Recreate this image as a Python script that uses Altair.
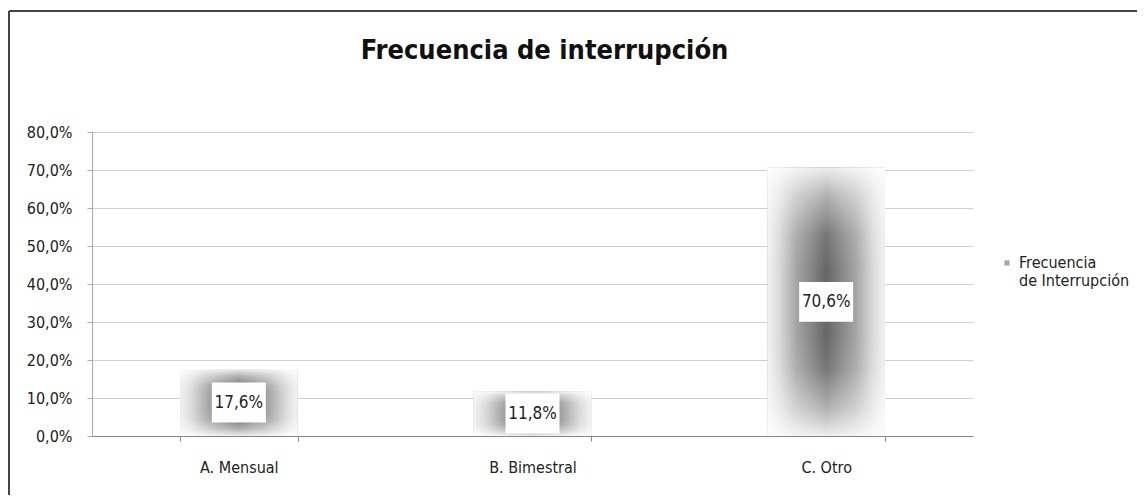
import altair as alt
import pandas as pd

categories = ["A. Mensual", "B. Bimestral", "C. Otro"]
values = [0.176, 0.118, 0.706]
value_labels = ["17,6%", "11,8%", "70,6%"]
series_name = "Frecuencia de Interrupción"
title_text = "Frecuencia de interrupción"
y_ticks = [0, 0.1, 0.2, 0.3, 0.4, 0.5, 0.6, 0.7, 0.8]

df = pd.DataFrame({"cat": categories, "val": values, "lab": value_labels,
                   "serie": [series_name] * len(categories)})

FONT = "Liberation Sans Narrow, DejaVu Sans Condensed, Liberation Sans, sans-serif"

xenc = alt.X("cat:N", sort=categories, title=None,
             scale=alt.Scale(paddingInner=0.6, paddingOuter=0.3),
             axis=alt.Axis(labelAngle=0, tickBand="extent", tickSize=5, tickColor="#888",
                           domainColor="#888", labelPadding=18, labelFontSize=16,
                           labelColor="#222", labelFont=FONT, grid=False))
yaxis = alt.Axis(values=y_ticks,
                 labelExpr="replace(format(datum.value, '.1%'), '.', ',')",
                 labelOverlap=False, tickSize=5, tickColor="#aaa", domainColor="#aaa",
                 gridColor="#cfcfcf", labelPadding=15, labelFontSize=16,
                 labelColor="#222", labelFont=FONT)
yscale = alt.Scale(domain=[0, 0.8], nice=False)
yenc = alt.Y("val:Q", title=None, scale=yscale, axis=yaxis)
ymid = alt.Y("mid:Q", title=None, scale=yscale, axis=yaxis)

base_bar = alt.Chart(df).mark_bar().encode(
    x=xenc, y=yenc,
    color=alt.Color("serie:N", scale=alt.Scale(range=["#a8a8a8"]),
                    legend=alt.Legend(title=None, orient="none", legendX=907, legendY=123,
                                      symbolType="square", symbolSize=28,
                                      labelFontSize=16, labelFont=FONT, labelColor="#222",
                                      labelLimit=400,
                                      labelExpr="['Frecuencia', 'de Interrupción']"))
)

hgrad = alt.Gradient(gradient="linear", x1=0, y1=0, x2=1, y2=0, stops=[
    alt.GradientStop(offset=0, color="#f2f2f2"),
    alt.GradientStop(offset=0.1, color="#dadada"),
    alt.GradientStop(offset=0.25, color="#a4a4a4"),
    alt.GradientStop(offset=0.5, color="#666666"),
    alt.GradientStop(offset=0.75, color="#a4a4a4"),
    alt.GradientStop(offset=0.9, color="#dadada"),
    alt.GradientStop(offset=1, color="#f2f2f2"),
])
vgrad = alt.Gradient(gradient="linear", x1=0, y1=0, x2=0, y2=1, stops=[
    alt.GradientStop(offset=0, color="rgba(255,255,255,0.88)"),
    alt.GradientStop(offset=0.1, color="rgba(255,255,255,0.5)"),
    alt.GradientStop(offset=0.25, color="rgba(255,255,255,0.1)"),
    alt.GradientStop(offset=0.38, color="rgba(255,255,255,0)"),
    alt.GradientStop(offset=0.62, color="rgba(255,255,255,0)"),
    alt.GradientStop(offset=0.75, color="rgba(255,255,255,0.1)"),
    alt.GradientStop(offset=0.9, color="rgba(255,255,255,0.5)"),
    alt.GradientStop(offset=1, color="rgba(255,255,255,0.88)"),
])

bar_h = alt.Chart(df).mark_bar(color=hgrad).encode(x=xenc, y=yenc)
bar_v = alt.Chart(df).mark_bar(color=vgrad).encode(x=xenc, y=yenc)

box = alt.Chart(df).transform_calculate(mid="datum.val / 2").mark_point(
    shape="M-1,-0.74L1,-0.74L1,0.74L-1,0.74Z", filled=True, fill="white", opacity=1,
    size=54 * 54
).encode(x=xenc, y=ymid)

txt = alt.Chart(df).transform_calculate(mid="datum.val / 2").mark_text(
    fontSize=17, font=FONT, color="#222"
).encode(x=xenc, y=ymid, text="lab:N")

border_data = alt.Data(values=[{"k": 1}])
left_line = alt.Chart(border_data).mark_rule(color="#444", strokeWidth=2).encode(
    x=alt.value(-83), y=alt.value(-121), y2=alt.value(400))
top_line = alt.Chart(border_data).mark_rule(color="#444", strokeWidth=2).encode(
    x=alt.value(-83), x2=alt.value(1100), y=alt.value(-121))

chart = alt.layer(base_bar, bar_h, bar_v, box, txt, left_line, top_line).properties(
    width=881, height=304,
    title=alt.TitleParams(title_text, fontSize=27, font=FONT, fontWeight="bold",
                          color="#111", anchor="middle", offset=-55, dx=12),
    autosize=alt.AutoSizeParams(type="none"),
    padding={"left": 84, "top": 124, "right": 164, "bottom": 59},
).configure_view(stroke=None).configure_axis(domainWidth=1)

chart.save("out.html", embed_options={"renderer": "svg", "actions": False})
